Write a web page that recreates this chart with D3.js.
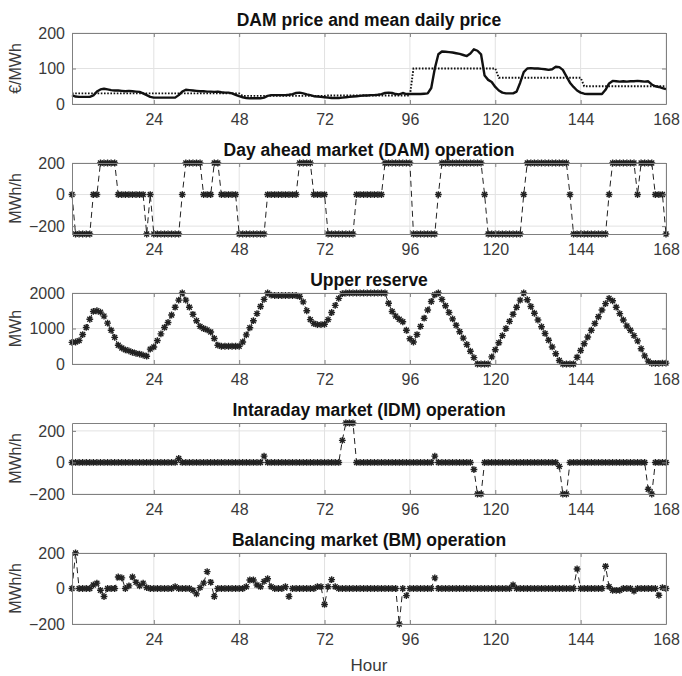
<!DOCTYPE html>
<html><head><meta charset="utf-8">
<script src="https://cdn.jsdelivr.net/npm/d3@7"></script>
<style>body{margin:0;background:#fff} text{font-family:"Liberation Sans",Arial,Helvetica,sans-serif}</style>
</head><body><svg id="c" width="682" height="676"></svg>
<script>
// ---------- data ----------
const hours = d3.range(1, 169);
const xTicks = [24, 48, 72, 96, 120, 144, 168];
const titles = ["DAM price and mean daily price", "Day ahead market (DAM) operation", "Upper reserve",
  "Intaraday market (IDM) operation", "Balancing market (BM) operation"];
const yLabels = ["\u20AC/MWh", "MWh/h", "MWh", "MWh/h", "MWh/h"];
const yTicks1 = [0, 100, 200], yTicks2 = [-200, 0, 200], yTicks3 = [0, 1000, 2000], yTicks4 = [-200, 0, 200], yTicks5 = [-200, 0, 200];

const dayMeanPrice = [30, 30, 23, 24, 100, 74, 50];
const damPrice = [
  25,21,20,20,20,20,24,35,41,43,41,39,38,38,37,36,37,36,35,34,30,25,20,18,
  18,18,18,18,18,18,25,35,40,39,38,37,36,36,35,35,34,35,33,32,32,30,26,22,
  19,17,16,16,16,16,18,23,25,25,25,25,25,26,28,31,32,30,27,25,22,21,20,19,
  18,17,17,17,18,19,20,21,22,23,24,24,25,25,26,28,31,32,31,28,27,31,28,28,
  28,28,28,29,30,45,100,140,148,147,146,145,143,141,138,135,142,154,150,140,80,68,62,48,
  38,32,30,30,30,35,60,90,100,101,100,100,99,98,96,98,105,104,96,78,60,48,38,32,
  29,28,28,28,28,28,40,58,65,64,63,64,63,64,64,65,64,63,64,55,50,48,45,42];
const damOperation = [
  0,-250,-250,-250,-250,-250,0,0,200,200,200,200,200,0,0,0,0,0,0,0,0,-250,0,-250,
  -250,-250,-250,-250,-250,-250,-250,0,200,200,200,200,200,0,0,0,200,200,0,0,0,0,0,-250,
  -250,-250,-250,-250,-250,-250,-250,0,0,0,0,0,0,0,0,0,200,200,200,200,0,0,0,0,
  -250,-250,-250,-250,-250,-250,-250,-250,0,0,0,0,0,0,0,0,200,200,200,200,200,200,200,200,
  -250,-250,-250,-250,-250,-250,-250,0,200,200,200,200,200,200,200,200,200,200,200,200,0,-250,-250,-250,
  -250,-250,-250,-250,-250,-250,-250,0,200,200,200,200,200,200,200,200,200,200,200,200,0,-250,-250,-250,
  -250,-250,-250,-250,-250,-250,-250,0,200,200,200,200,200,200,200,0,200,200,200,200,0,0,0,-250];
const upperReserve = [
  610,620,660,830,1030,1260,1480,1500,1460,1350,1150,950,750,530,450,400,370,330,300,280,250,220,420,480,
  660,850,1030,1170,1380,1600,1800,2000,1800,1600,1400,1220,1060,1000,960,900,720,530,500,500,500,500,500,500,
  620,820,1020,1220,1420,1620,1820,2000,1940,1930,1930,1930,1930,1930,1930,1930,1900,1750,1500,1250,1140,1110,1110,1120,
  1250,1450,1650,1850,1980,2000,2000,2000,2000,2000,2000,2000,2000,2000,2000,2000,2000,1710,1480,1350,1260,1190,950,710,
  620,830,1060,1290,1520,1760,1950,2000,1820,1640,1450,1270,1090,910,730,550,360,180,0,0,0,0,200,400,
  600,800,1000,1200,1400,1600,1800,2000,1810,1620,1430,1240,1050,860,670,480,290,100,0,0,0,0,190,380,
  570,760,950,1140,1330,1520,1700,1850,1780,1600,1420,1240,1070,950,800,650,430,230,80,20,20,20,25,25];
const idmOperation = [
  0,0,0,0,0,0,0,0,0,0,0,0,0,0,0,0,0,0,0,0,0,0,0,0,
  0,0,0,0,0,0,25,0,0,0,0,0,0,0,0,0,0,0,0,0,0,0,0,0,
  0,0,0,0,0,0,40,0,0,0,0,0,0,0,0,0,0,0,0,0,0,0,0,0,
  0,0,0,0,140,250,250,250,0,0,0,0,0,0,0,0,0,0,0,0,0,0,0,0,
  0,0,0,0,0,0,40,0,0,0,0,0,0,0,0,0,0,-45,-200,-200,0,0,0,0,
  0,0,0,0,0,0,0,0,0,0,0,0,0,0,0,0,0,-25,-200,-200,0,0,0,0,
  0,0,0,0,0,0,0,0,0,0,0,0,0,0,0,0,0,0,-170,-200,0,0,0,0];
const bmOperation = [
  0,200,0,0,0,0,20,30,-10,-45,0,0,0,65,60,0,15,65,35,15,30,5,0,0,
  0,0,0,0,0,10,0,0,0,0,-10,-30,5,30,95,35,-45,0,0,0,0,0,0,0,
  0,10,48,48,20,10,40,55,10,0,0,0,10,-45,0,0,0,0,0,0,0,10,10,-90,
  10,50,10,0,0,0,0,0,0,0,0,0,0,0,0,0,0,0,0,0,-200,0,-40,0,
  0,0,0,0,0,0,60,0,0,0,0,0,0,0,0,0,0,0,0,0,0,0,0,0,
  0,0,0,0,20,0,0,0,0,0,0,0,0,0,0,0,0,0,0,0,0,0,110,0,
  0,0,0,0,0,0,125,10,-10,-10,-10,0,0,0,-15,0,0,0,0,0,0,-38,5,0];

// ---------- layout ----------
const W = 682, Hh = 676;
const L = 72, R = 666, PH = 71, tops = [33, 163, 293, 423, 553];
const svg = d3.select('#c');
svg.append('rect').attr('width', W).attr('height', Hh).attr('fill', '#fff');
const x = d3.scaleLinear().domain([1, 168]).range([L, R]);

const meanHourly = hours.map(h => dayMeanPrice[Math.floor((h - 1) / 24)]);
const panels = [
  {domain: [0, 200], ticks: yTicks1},
  {domain: [-250, 200], ticks: yTicks2, data: damOperation},
  {domain: [0, 2000], ticks: yTicks3, data: upperReserve},
  {domain: [-200, 250], ticks: yTicks4, data: idmOperation},
  {domain: [-200, 200], ticks: yTicks5, data: bmOperation}
];
const axisCol = '#808080', textCol = '#3a3a3a', gridCol = '#e2e2e2';
const star = r => { const d = r * 0.72; return `M${-r},0H${r}M0,${-r}V${r}M${-d},${-d}L${d},${d}M${-d},${d}L${d},${-d}`; };

panels.forEach((p, i) => {
  const top = tops[i];
  const y = d3.scaleLinear().domain(p.domain).range([top + PH, top]);
  const g = svg.append('g');
  // grid
  g.selectAll('line.gx').data(xTicks).join('line').attr('class', 'gx')
    .attr('x1', d => x(d)).attr('x2', d => x(d)).attr('y1', top).attr('y2', top + PH)
    .attr('stroke', gridCol).attr('stroke-width', 1);
  g.selectAll('line.gy').data(p.ticks).join('line').attr('class', 'gy')
    .attr('x1', L).attr('x2', R).attr('y1', d => y(d)).attr('y2', d => y(d))
    .attr('stroke', gridCol).attr('stroke-width', 1);
  // clip
  const cid = 'clip' + i;
  svg.append('clipPath').attr('id', cid).append('rect').attr('x', L - 4).attr('y', top - 4).attr('width', R - L + 8).attr('height', PH + 8);
  const dg = g.append('g').attr('clip-path', `url(#${cid})`);
  if (i === 0) {
    dg.append('path').datum(hours).attr('fill', 'none').attr('stroke', '#111').attr('stroke-width', 1.9)
      .attr('stroke-dasharray', '1.6,1.6')
      .attr('d', d3.line().x(h => x(h)).y((h, k) => y(meanHourly[k])));
    dg.append('path').datum(hours).attr('fill', 'none').attr('stroke', '#111').attr('stroke-width', 2.4)
      .attr('stroke-linejoin', 'round')
      .attr('d', d3.line().x(h => x(h)).y((h, k) => y(damPrice[k])));
  } else {
    dg.append('path').datum(hours).attr('fill', 'none').attr('stroke', '#222').attr('stroke-width', 1)
      .attr('stroke-dasharray', '6,4')
      .attr('d', d3.line().x(h => x(h)).y((h, k) => y(p.data[k])));
    dg.selectAll('path.m').data(hours).join('path').attr('class', 'm')
      .attr('transform', (h, k) => `translate(${x(h)},${y(p.data[k])})`)
      .attr('d', star(3.4)).attr('fill', 'none').attr('stroke', '#222').attr('stroke-width', 1.4);
  }
  // axes
  const styleAx = a => {
    a.select('.domain').attr('stroke', axisCol);
    a.selectAll('.tick line').attr('stroke', axisCol);
    a.selectAll('text').attr('fill', textCol).style('font-size', '16px').attr('font-family', null);
  };
  g.append('g').attr('transform', `translate(0,${top + PH})`)
    .call(d3.axisBottom(x).tickValues(xTicks).tickSizeInner(-4).tickSizeOuter(0).tickPadding(10).tickFormat(d3.format('d'))).call(styleAx);
  g.append('g').attr('transform', `translate(0,${top})`)
    .call(d3.axisTop(x).tickValues(xTicks).tickSizeInner(-4).tickSizeOuter(0).tickFormat('')).call(styleAx);
  g.append('g').attr('transform', `translate(${L},0)`)
    .call(d3.axisLeft(y).tickValues(p.ticks).tickSizeInner(-4).tickSizeOuter(0).tickPadding(7).tickFormat(d3.format('d'))).call(styleAx);
  g.append('g').attr('transform', `translate(${R},0)`)
    .call(d3.axisRight(y).tickValues(p.ticks).tickSizeInner(-4).tickSizeOuter(0).tickFormat('')).call(styleAx);
  // title
  g.append('text').attr('x', (L + R) / 2).attr('y', top - 7).attr('text-anchor', 'middle')
    .attr('font-weight', 'bold').attr('font-size', 17.5).attr('fill', '#111').text(titles[i]);
  // y label
  g.append('text').attr('transform', `translate(21,${top + PH / 2}) rotate(-90)`).attr('text-anchor', 'middle')
    .attr('font-size', 16).attr('fill', textCol).text(yLabels[i]);
});
svg.append('text').attr('x', (L + R) / 2).attr('y', 671).attr('text-anchor', 'middle')
  .attr('font-size', 17).attr('fill', textCol).text('Hour');
</script></body></html>
